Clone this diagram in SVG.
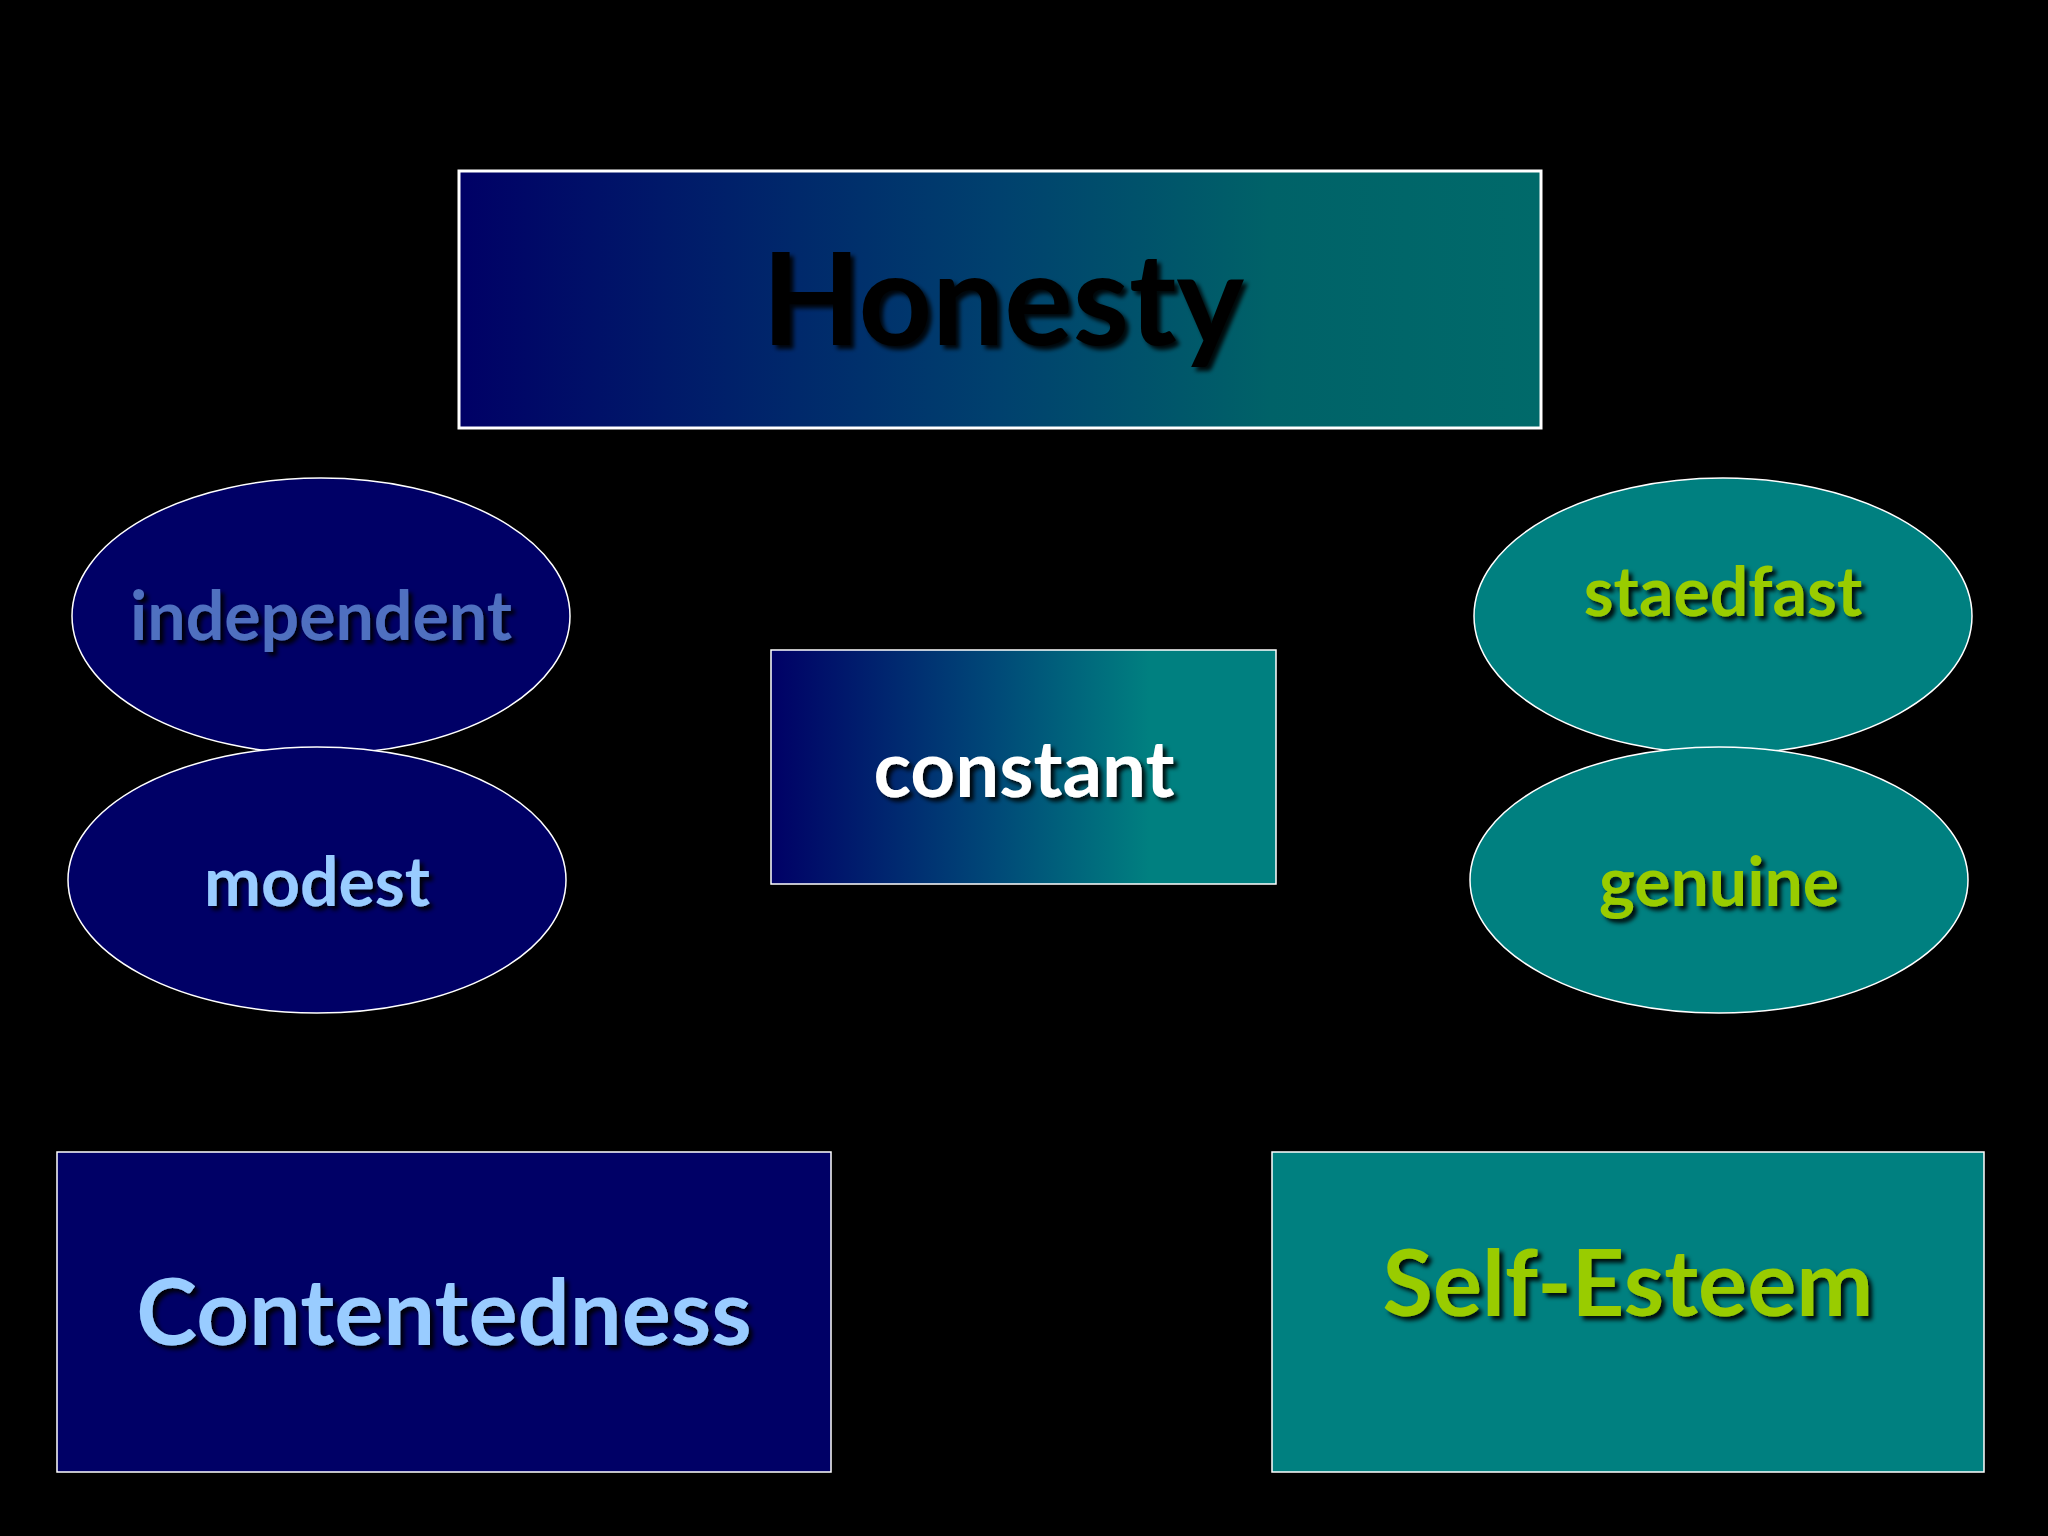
<svg xmlns="http://www.w3.org/2000/svg" width="2048" height="1536" viewBox="0 0 2048 1536">
<defs>
<linearGradient id="g1" x1="0" y1="0" x2="1" y2="0"><stop offset="0" stop-color="#000066"/><stop offset="0.5" stop-color="#00416e"/><stop offset="0.75" stop-color="#006268"/><stop offset="1" stop-color="#006a6a"/></linearGradient>
<linearGradient id="g2" x1="0" y1="0" x2="1" y2="0"><stop offset="0" stop-color="#000066"/><stop offset="0.45" stop-color="#004a78"/><stop offset="0.75" stop-color="#008080"/><stop offset="1" stop-color="#008080"/></linearGradient>
<filter id="sh" x="-10%" y="-20%" width="130%" height="150%"><feDropShadow dx="4" dy="4" stdDeviation="2" flood-color="#000" flood-opacity="0.9"/></filter>
</defs>
<style>
text{font-family:Lato,"Open Sans","Liberation Sans",sans-serif;font-weight:bold;text-anchor:middle;filter:url(#sh)}
.nv{fill:#000066;stroke:#ffffff;stroke-width:1.5}
.tl{fill:#008080;stroke:#ffffff;stroke-width:1.5}
</style>
<rect width="2048" height="1536" fill="#000"/>
<g id="honesty"><rect x="459" y="171" width="1082" height="257" fill="url(#g1)" stroke="#fff" stroke-width="3"/><text x="1003" y="345" font-size="128" fill="#000">Honesty</text></g>
<g id="independent"><ellipse cx="321" cy="616" rx="249" ry="138" class="nv"/><text x="321" y="640" font-size="68" fill="#4f6fc0">independent</text></g>
<g id="modest"><ellipse cx="317" cy="880" rx="249" ry="133" class="nv"/><text x="317" y="906" font-size="68" fill="#99ccff">modest</text></g>
<g id="staedfast"><ellipse cx="1723" cy="616" rx="249" ry="138" class="tl"/><text x="1723" y="616" font-size="68" fill="#99cc00">staedfast</text></g>
<g id="genuine"><ellipse cx="1719" cy="880" rx="249" ry="133" class="tl"/><text x="1719" y="906" font-size="68" fill="#99cc00">genuine</text></g>
<g id="constant"><rect x="771" y="650" width="505" height="234" fill="url(#g2)" stroke="#fff" stroke-width="1.5"/><text x="1024" y="797" font-size="78" fill="#fff">constant</text></g>
<g id="contentedness"><rect x="57" y="1152" width="774" height="320" fill="#000066" stroke="#fff" stroke-width="1.5"/><text x="444" y="1345" font-size="92" fill="#99ccff">Contentedness</text></g>
<g id="selfesteem"><rect x="1272" y="1152" width="712" height="320" fill="#008080" stroke="#fff" stroke-width="1.5"/><text x="1628" y="1316" font-size="92" fill="#99cc00">Self-Esteem</text></g>
<g id="connectors"/>
</svg>
